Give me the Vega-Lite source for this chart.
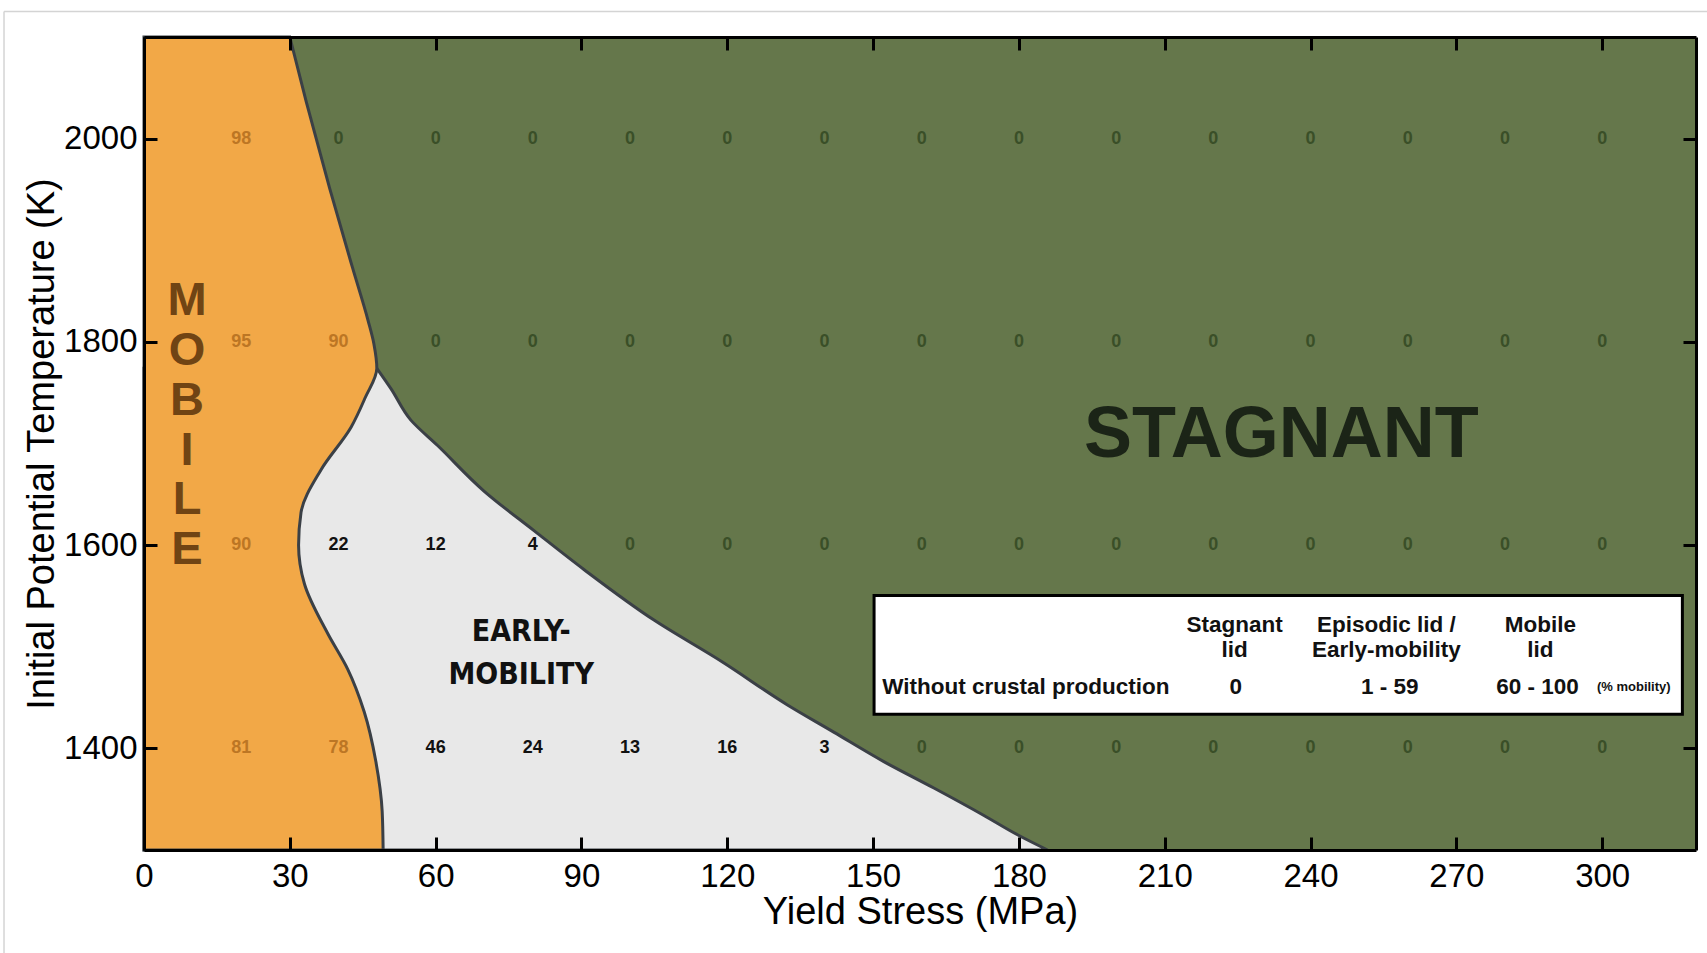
{
  "$schema": "https://vega.github.io/schema/vega-lite/v6.json",
  "width": 1552,
  "height": 813,
  "autosize": {"type": "none"},
  "padding": {"left": 144, "top": 37, "right": 11, "bottom": 103},
  "background": "white",
  "config": {
    "view": {"fill": "#65774B", "stroke": null},
    "font": "Liberation Sans, Arial, Helvetica, sans-serif"
  },
  "datasets": {
    "early": [
      {"y": 1300, "xb": 185.9}, {"y": 1315, "xb": 179.7}, {"y": 1334, "xb": 172.8},
      {"y": 1361, "xb": 162.5}, {"y": 1387, "xb": 152.2}, {"y": 1416, "xb": 141.9},
      {"y": 1443, "xb": 132.3}, {"y": 1485, "xb": 119.0}, {"y": 1526, "xb": 105.0},
      {"y": 1576, "xb": 90.5}, {"y": 1614, "xb": 80.3}, {"y": 1653, "xb": 70.0},
      {"y": 1698, "xb": 60.4}, {"y": 1723, "xb": 54.9}, {"y": 1754, "xb": 50.8},
      {"y": 1774, "xb": 47.9}
    ],
    "mobile": [
      {"y": 1300, "xb": 49.2}, {"y": 1338, "xb": 49.0}, {"y": 1387, "xb": 47.7},
      {"y": 1436, "xb": 45.3}, {"y": 1478, "xb": 41.9}, {"y": 1513, "xb": 37.8},
      {"y": 1562, "xb": 33.0}, {"y": 1600, "xb": 31.8}, {"y": 1632, "xb": 32.3},
      {"y": 1674, "xb": 36.4}, {"y": 1716, "xb": 42.6}, {"y": 1745, "xb": 45.5},
      {"y": 1774, "xb": 47.9}, {"y": 1798, "xb": 47.3}, {"y": 1821, "xb": 46.1},
      {"y": 1873, "xb": 42.9}, {"y": 1951, "xb": 38.2}, {"y": 2036, "xb": 33.4},
      {"y": 2100, "xb": 30.0}
    ],
    "nums": [
      {"x": 20, "y": 2000, "v": 98}, {"x": 40, "y": 2000, "v": 0}, {"x": 60, "y": 2000, "v": 0},
      {"x": 80, "y": 2000, "v": 0}, {"x": 100, "y": 2000, "v": 0}, {"x": 120, "y": 2000, "v": 0},
      {"x": 140, "y": 2000, "v": 0}, {"x": 160, "y": 2000, "v": 0}, {"x": 180, "y": 2000, "v": 0},
      {"x": 200, "y": 2000, "v": 0}, {"x": 220, "y": 2000, "v": 0}, {"x": 240, "y": 2000, "v": 0},
      {"x": 260, "y": 2000, "v": 0}, {"x": 280, "y": 2000, "v": 0}, {"x": 300, "y": 2000, "v": 0},
      {"x": 20, "y": 1800, "v": 95}, {"x": 40, "y": 1800, "v": 90}, {"x": 60, "y": 1800, "v": 0},
      {"x": 80, "y": 1800, "v": 0}, {"x": 100, "y": 1800, "v": 0}, {"x": 120, "y": 1800, "v": 0},
      {"x": 140, "y": 1800, "v": 0}, {"x": 160, "y": 1800, "v": 0}, {"x": 180, "y": 1800, "v": 0},
      {"x": 200, "y": 1800, "v": 0}, {"x": 220, "y": 1800, "v": 0}, {"x": 240, "y": 1800, "v": 0},
      {"x": 260, "y": 1800, "v": 0}, {"x": 280, "y": 1800, "v": 0}, {"x": 300, "y": 1800, "v": 0},
      {"x": 20, "y": 1600, "v": 90}, {"x": 40, "y": 1600, "v": 22}, {"x": 60, "y": 1600, "v": 12},
      {"x": 80, "y": 1600, "v": 4}, {"x": 100, "y": 1600, "v": 0}, {"x": 120, "y": 1600, "v": 0},
      {"x": 140, "y": 1600, "v": 0}, {"x": 160, "y": 1600, "v": 0}, {"x": 180, "y": 1600, "v": 0},
      {"x": 200, "y": 1600, "v": 0}, {"x": 220, "y": 1600, "v": 0}, {"x": 240, "y": 1600, "v": 0},
      {"x": 260, "y": 1600, "v": 0}, {"x": 280, "y": 1600, "v": 0}, {"x": 300, "y": 1600, "v": 0},
      {"x": 20, "y": 1400, "v": 81}, {"x": 40, "y": 1400, "v": 78}, {"x": 60, "y": 1400, "v": 46},
      {"x": 80, "y": 1400, "v": 24}, {"x": 100, "y": 1400, "v": 13}, {"x": 120, "y": 1400, "v": 16},
      {"x": 140, "y": 1400, "v": 3}, {"x": 160, "y": 1400, "v": 0}, {"x": 180, "y": 1400, "v": 0},
      {"x": 200, "y": 1400, "v": 0}, {"x": 220, "y": 1400, "v": 0}, {"x": 240, "y": 1400, "v": 0},
      {"x": 260, "y": 1400, "v": 0}, {"x": 280, "y": 1400, "v": 0}, {"x": 300, "y": 1400, "v": 0}
    ],
    "box": [{"x0": 150.2, "x1": 316.5, "y0": 1433.5, "y1": 1550.4}],
    "frame": [
      {"x0": -28.8, "x1": 321.6, "y0": 2125.1, "y1": 2125.1},
      {"x0": -28.8, "x1": -28.8, "y0": 2125.1, "y1": 1198.6}
    ],
    "notes": [
      {"kind": "head", "x": 224.4, "y": 1514.1, "label": "Stagnant|lid"},
      {"kind": "head", "x": 255.6, "y": 1514.1, "label": "Episodic lid /|Early-mobility"},
      {"kind": "head", "x": 287.3, "y": 1514.1, "label": "Mobile|lid"},
      {"kind": "head", "x": 224.6, "y": 1453.5, "label": "0"},
      {"kind": "head", "x": 256.3, "y": 1453.5, "label": "1 - 59"},
      {"kind": "head", "x": 286.7, "y": 1453.5, "label": "60 - 100"},
      {"kind": "row", "x": 151.9, "y": 1453.5, "label": "Without crustal production"},
      {"kind": "unit", "x": 306.5, "y": 1456.9, "label": "(% mobility)"},
      {"kind": "stag", "x": 234.0, "y": 1686.6, "label": "STAGNANT"},
      {"kind": "mob", "x": 8.85, "y": 1826.0, "label": "M|O|B|I|L|E"},
      {"kind": "early", "x": 77.6, "y": 1505.5, "label": "EARLY-|MOBILITY"}
    ]
  },
  "layer": [
    {
      "data": {"name": "early"},
      "mark": {"type": "area", "orient": "horizontal", "interpolate": "monotone", "fill": "#E8E8E8", "stroke": "#3b4046", "strokeWidth": 3, "opacity": 1},
      "encoding": {
        "y": {"field": "y", "type": "quantitative", "scale": {"domain": [1300, 2100], "nice": false, "zero": false},
          "axis": {"orient": "left", "values": [1400, 1600, 1800, 2000], "format": "d", "tickSize": -13, "tickWidth": 3, "tickColor": "black", "domainWidth": 3, "domainColor": "black", "labelFontSize": 33, "labelColor": "black", "labelPadding": 20, "labelFlush": false, "labelOverlap": false, "grid": false, "zindex": 1, "title": "Initial Potential Temperature (K)", "titleFontSize": 38, "titleFontWeight": "normal", "titleColor": "black", "titlePadding": 2}},
        "x": {"field": "xb", "type": "quantitative", "scale": {"domain": [0, 319.3], "nice": false, "zero": false},
          "axis": {"orient": "bottom", "values": [0, 30, 60, 90, 120, 150, 180, 210, 240, 270, 300], "format": "d", "tickSize": -13, "tickWidth": 3, "tickColor": "black", "domainWidth": 3, "domainColor": "black", "labelFontSize": 33, "labelColor": "black", "labelPadding": 23, "labelFlush": false, "labelOverlap": false, "grid": false, "zindex": 1, "title": "Yield Stress (MPa)", "titleFontSize": 38, "titleFontWeight": "normal", "titleColor": "black", "titlePadding": 0}},
        "x2": {"datum": 0}
      }
    },
    {
      "data": {"name": "mobile"},
      "mark": {"type": "area", "orient": "horizontal", "interpolate": "monotone", "fill": "#F2A847", "stroke": "#3b4046", "strokeWidth": 3, "opacity": 1},
      "encoding": {
        "y": {"field": "y", "type": "quantitative", "scale": {"domain": [1300, 2100], "nice": false, "zero": false},
          "axis": {"orient": "right", "values": [1400, 1600, 1800, 2000], "tickSize": -13, "tickWidth": 3, "tickColor": "black", "domainWidth": 3, "domainColor": "black", "labels": false, "grid": false, "zindex": 1, "title": null}},
        "x": {"field": "xb", "type": "quantitative", "scale": {"domain": [0, 319.3], "nice": false, "zero": false},
          "axis": {"orient": "top", "values": [0, 30, 60, 90, 120, 150, 180, 210, 240, 270, 300], "tickSize": -13, "tickWidth": 3, "tickColor": "black", "domainWidth": 3, "domainColor": "black", "labels": false, "grid": false, "zindex": 1, "title": null}},
        "x2": {"datum": 0}
      }
    },
    {
      "data": {"name": "frame"},
      "mark": {"type": "rule", "stroke": "#d4d4d4", "strokeWidth": 1.5},
      "encoding": {
        "x": {"field": "x0", "type": "quantitative", "scale": {"domain": [0, 319.3], "nice": false, "zero": false}, "axis": null},
        "x2": {"field": "x1"},
        "y": {"field": "y0", "type": "quantitative", "scale": {"domain": [1300, 2100], "nice": false, "zero": false}, "axis": null},
        "y2": {"field": "y1"}
      }
    },
    {
      "data": {"name": "nums"},
      "mark": {"type": "text", "fontSize": 18, "fontWeight": "bold", "align": "center", "baseline": "middle"},
      "encoding": {
        "x": {"field": "x", "type": "quantitative", "scale": {"domain": [0, 319.3], "nice": false, "zero": false}, "axis": null},
        "y": {"field": "y", "type": "quantitative", "scale": {"domain": [1300, 2100], "nice": false, "zero": false}, "axis": null},
        "text": {"field": "v", "type": "quantitative", "format": "d"},
        "color": {"condition": [{"test": "datum.v >= 60", "value": "#BC7624"}, {"test": "datum.v == 0", "value": "#3A4F28"}], "value": "#111111"}
      }
    },
    {
      "data": {"name": "box"},
      "mark": {"type": "rect", "fill": "white", "stroke": "black", "strokeWidth": 3},
      "encoding": {
        "x": {"field": "x0", "type": "quantitative", "scale": {"domain": [0, 319.3], "nice": false, "zero": false}, "axis": null},
        "x2": {"field": "x1"},
        "y": {"field": "y0", "type": "quantitative", "scale": {"domain": [1300, 2100], "nice": false, "zero": false}, "axis": null},
        "y2": {"field": "y1"}
      }
    },
    {
      "data": {"name": "notes"},
      "transform": [{"filter": "datum.kind == 'head'"}],
      "mark": {"type": "text", "fontSize": 22.5, "fontWeight": "bold", "align": "center", "baseline": "alphabetic", "lineBreak": "|", "lineHeight": 25, "color": "#111111"},
      "encoding": {
        "x": {"field": "x", "type": "quantitative", "scale": {"domain": [0, 319.3], "nice": false, "zero": false}, "axis": null},
        "y": {"field": "y", "type": "quantitative", "scale": {"domain": [1300, 2100], "nice": false, "zero": false}, "axis": null},
        "text": {"field": "label"}
      }
    },
    {
      "data": {"name": "notes"},
      "transform": [{"filter": "datum.kind == 'row'"}],
      "mark": {"type": "text", "fontSize": 22.5, "fontWeight": "bold", "align": "left", "baseline": "alphabetic", "color": "#111111"},
      "encoding": {
        "x": {"field": "x", "type": "quantitative", "scale": {"domain": [0, 319.3], "nice": false, "zero": false}, "axis": null},
        "y": {"field": "y", "type": "quantitative", "scale": {"domain": [1300, 2100], "nice": false, "zero": false}, "axis": null},
        "text": {"field": "label"}
      }
    },
    {
      "data": {"name": "notes"},
      "transform": [{"filter": "datum.kind == 'unit'"}],
      "mark": {"type": "text", "fontSize": 13, "fontWeight": "bold", "align": "center", "baseline": "alphabetic", "color": "#111111"},
      "encoding": {
        "x": {"field": "x", "type": "quantitative", "scale": {"domain": [0, 319.3], "nice": false, "zero": false}, "axis": null},
        "y": {"field": "y", "type": "quantitative", "scale": {"domain": [1300, 2100], "nice": false, "zero": false}, "axis": null},
        "text": {"field": "label"}
      }
    },
    {
      "data": {"name": "notes"},
      "transform": [{"filter": "datum.kind == 'stag'"}],
      "mark": {"type": "text", "fontSize": 72, "fontWeight": "bold", "align": "center", "baseline": "alphabetic", "color": "#1B2417"},
      "encoding": {
        "x": {"field": "x", "type": "quantitative", "scale": {"domain": [0, 319.3], "nice": false, "zero": false}, "axis": null},
        "y": {"field": "y", "type": "quantitative", "scale": {"domain": [1300, 2100], "nice": false, "zero": false}, "axis": null},
        "text": {"field": "label"}
      }
    },
    {
      "data": {"name": "notes"},
      "transform": [{"filter": "datum.kind == 'mob'"}],
      "mark": {"type": "text", "fontSize": 47, "fontWeight": "bold", "align": "center", "baseline": "alphabetic", "lineBreak": "|", "lineHeight": 49.7, "color": "#704414"},
      "encoding": {
        "x": {"field": "x", "type": "quantitative", "scale": {"domain": [0, 319.3], "nice": false, "zero": false}, "axis": null},
        "y": {"field": "y", "type": "quantitative", "scale": {"domain": [1300, 2100], "nice": false, "zero": false}, "axis": null},
        "text": {"field": "label"}
      }
    },
    {
      "data": {"name": "notes"},
      "transform": [{"filter": "datum.kind == 'early'"}],
      "mark": {"type": "text", "font": "DejaVu Sans Condensed, Liberation Sans Narrow, sans-serif", "fontSize": 30, "fontWeight": "bold", "align": "center", "baseline": "alphabetic", "lineBreak": "|", "lineHeight": 43.3, "color": "#111111"},
      "encoding": {
        "x": {"field": "x", "type": "quantitative", "scale": {"domain": [0, 319.3], "nice": false, "zero": false}, "axis": null},
        "y": {"field": "y", "type": "quantitative", "scale": {"domain": [1300, 2100], "nice": false, "zero": false}, "axis": null},
        "text": {"field": "label"}
      }
    }
  ],
  "resolve": {"axis": {"x": "independent", "y": "independent"}}
}
